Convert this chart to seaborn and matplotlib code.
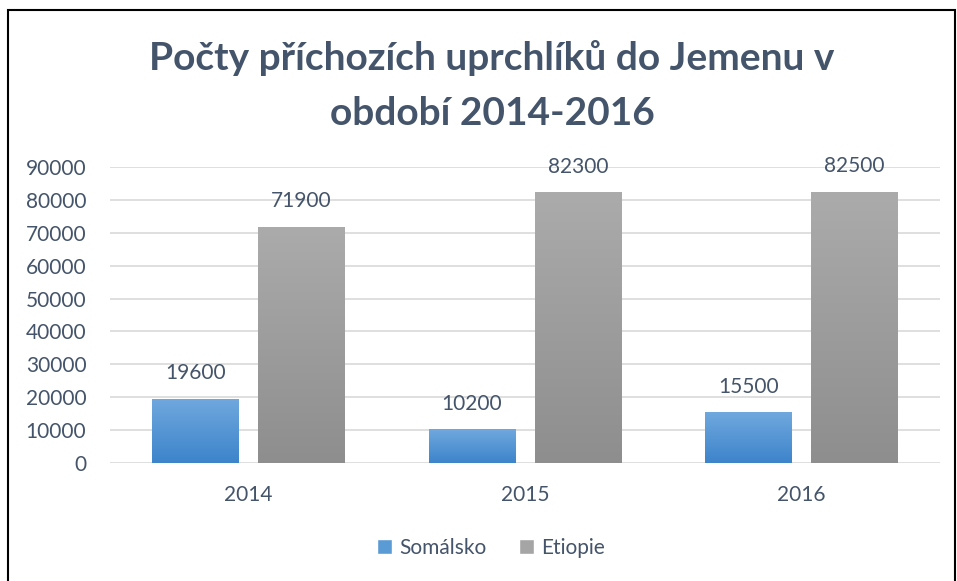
import numpy as np
import pandas as pd
import matplotlib
matplotlib.use("Agg")
import matplotlib.pyplot as plt
import seaborn as sns
from matplotlib.patches import Rectangle
from matplotlib.colors import LinearSegmentedColormap

years = ["2014", "2015", "2016"]
somalsko = [19600, 10200, 15500]
etiopie = [71900, 82300, 82500]
series_names = ["Somálsko", "Etiopie"]
yticks = [0, 10000, 20000, 30000, 40000, 50000, 60000, 70000, 80000, 90000]
title_lines = ["Počty příchozích uprchlíků do Jemenu v", "období 2014-2016"]

df = pd.DataFrame({
    "rok": years * 2,
    "země": [series_names[0]] * 3 + [series_names[1]] * 3,
    "počet": somalsko + etiopie,
})

sns.set_theme(style="white")
plt.rcParams["font.family"] = ["Lato", "DejaVu Sans"]
txt = "#44546A"
fs = 15

fig = plt.figure(figsize=(9.57, 5.81), dpi=100)
ax = fig.add_axes([110/957, 1-463/581, 830/957, (463-167)/581])

colors = {"Somálsko": "#5B9BD5", "Etiopie": "#A5A5A5"}
sns.barplot(data=df, x="rok", y="počet", hue="země", palette=colors,
            width=0.766, gap=0.18, ax=ax, legend=True, saturation=1)

grad_cols = {"Somálsko": ("#70A8DE", "#3D84CB"), "Etiopie": ("#ABABAB", "#8E8E8E")}
for cont, name in zip(ax.containers, series_names):
    top, bot = grad_cols[name]
    cmap = LinearSegmentedColormap.from_list(name, [bot, top])
    for p in cont.patches:
        x0, y0 = p.get_x(), p.get_y()
        w, h = p.get_width(), p.get_height()
        p.set_edgecolor("none")
        im = ax.imshow(np.linspace(0, 1, 100).reshape(-1, 1), cmap=cmap, origin="lower",
                       extent=[x0, x0 + w, y0, y0 + h], aspect="auto", zorder=p.get_zorder() + 0.1)
        im.set_clip_path(p)
    ax.bar_label(cont, labels=[str(int(v)) for v in cont.datavalues], padding=11,
                 color=txt, fontsize=fs)

ax.set_xlim(-0.5, 2.5)
ax.set_ylim(0, 90000)
ax.set_yticks(yticks)
ax.set_yticklabels([str(v) for v in yticks])
ax.grid(axis="y", color="#D9D9D9", linewidth=1.2)
ax.set_axisbelow(True)
for s in ax.spines.values():
    s.set_visible(False)
ax.tick_params(axis="both", length=0, labelsize=fs, labelcolor=txt)
ax.tick_params(axis="y", pad=17)
ax.tick_params(axis="x", pad=16)
ax.set_xlabel("")
ax.set_ylabel("")

leg = ax.legend(loc="center", bbox_to_anchor=(491/957, 1-548/581), bbox_transform=fig.transFigure,
                ncol=2, frameon=False, fontsize=fs, handlelength=0.7, handleheight=0.7,
                handletextpad=0.35, columnspacing=1.6)
for t in leg.get_texts():
    t.set_color(txt)

fig.text(492/957, 1-70/581, title_lines[0], ha="center", va="baseline", fontsize=28,
         fontweight="bold", color=txt)
fig.text(492/957, 1-125/581, title_lines[1], ha="center", va="baseline", fontsize=28,
         fontweight="bold", color=txt)

fig.patches.append(Rectangle((8/957, -0.05), (955-8)/957, 1.05 - 10/581,
                             transform=fig.transFigure, fill=False, edgecolor="black",
                             linewidth=1.5, clip_on=False))

fig.savefig("out.png", dpi=100)
